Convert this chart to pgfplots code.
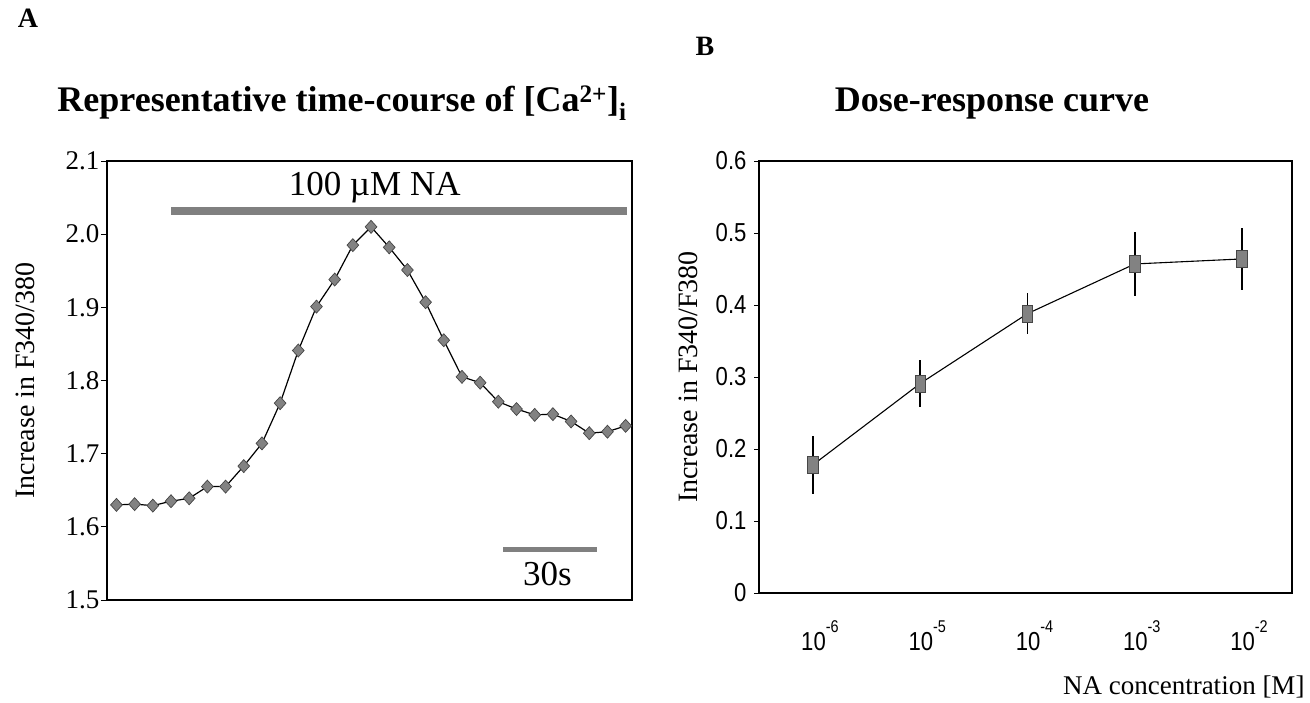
\documentclass[border=0pt]{standalone}
\usepackage{pgfplots}
\usepackage{pgfplotstable}
\pgfplotsset{compat=1.18}
\usepackage{fontspec}
\setmainfont{Liberation Serif}
\newfontfamily\narrowsans[FakeStretch=0.85]{Liberation Sans}
\definecolor{markgray}{RGB}{130,130,130}
\definecolor{markedge}{RGB}{70,70,70}
\definecolor{bargray}{RGB}{128,128,128}

\pgfplotstableread{
x y
0 1.630
1 1.631
2 1.629
3 1.635
4 1.639
5 1.655
6 1.655
7 1.683
8 1.714
9 1.769
10 1.841
11 1.901
12 1.938
13 1.985
14 2.010
15 1.982
16 1.951
17 1.907
18 1.855
19 1.805
20 1.797
21 1.771
22 1.761
23 1.753
24 1.754
25 1.744
26 1.728
27 1.730
28 1.738
}\timecourse

\pgfplotstableread{
x y e
-6 0.178 0.040
-5 0.291 0.032
-4 0.388 0.028
-3 0.457 0.044
-2 0.464 0.043
}\dose

\begin{document}
\begin{tikzpicture}
% ---------- Panel A ----------
\begin{axis}[
  at={(107pt,102pt)}, anchor=south west,
  width=525pt, height=439pt, scale only axis,
  xmin=-0.52, xmax=28.35, ymin=1.5, ymax=2.1,
  xtick=\empty,
  ytick={1.5,1.6,1.7,1.8,1.9,2.0,2.1},
  yticklabels={1.5,1.6,1.7,1.8,1.9,2.0,2.1},
  ytick pos=left,
  tick align=outside, major tick length=6pt,
  tick style={black, line width=1pt},
  yticklabel style={font=\fontsize{27}{27}\selectfont, xshift=2pt},
  axis line style={line width=1.3pt},
  ylabel={Increase in F340/380},
  ylabel style={font=\fontsize{28}{28}\selectfont, at={(axis description cs:-0.156,0.5)}, anchor=center},
  clip=false,
]
\addplot[line width=8pt, color=bargray] coordinates {(3,2.032) (28.1,2.032)};
\node[font=\fontsize{35}{35}\selectfont] at (axis cs:14.2,2.063) {100 µM NA};
\addplot[line width=5pt, color=bargray] coordinates {(21.26,1.569) (26.43,1.569)};
\node[font=\fontsize{35}{35}\selectfont] at (axis cs:23.7,1.536) {30s};
\addplot[black, line width=1.2pt, mark=diamond*, mark size=6.5pt,
  mark options={xscale=1.2, fill=markgray, draw=markedge, line width=0.7pt}] table[x=x,y=y] {\timecourse};
\end{axis}

% ---------- Panel B ----------
\begin{axis}[
  at={(759pt,109pt)}, anchor=south west,
  width=533pt, height=432pt, scale only axis,
  xmin=-6.503, xmax=-1.534, ymin=0, ymax=0.6,
  xtick={-6,-5,-4,-3,-2},
  xticklabels={
    {10\raisebox{18pt}{\fontsize{17}{17}\selectfont -6}},
    {10\raisebox{18pt}{\fontsize{17}{17}\selectfont -5}},
    {10\raisebox{18pt}{\fontsize{17}{17}\selectfont -4}},
    {10\raisebox{18pt}{\fontsize{17}{17}\selectfont -3}},
    {10\raisebox{18pt}{\fontsize{17}{17}\selectfont -2}}},
  every major x tick/.append style={draw=none},
  xticklabel style={font=\narrowsans\fontsize{26}{26}\selectfont, anchor=base, yshift=-52pt, xshift=7pt},
  ytick={0,0.1,0.2,0.3,0.4,0.5,0.6},
  yticklabels={0,0.1,0.2,0.3,0.4,0.5,0.6},
  ytick pos=left,
  tick align=outside, major tick length=5pt,
  tick style={black, line width=1pt},
  yticklabel style={font=\narrowsans\fontsize{26}{26}\selectfont, xshift=-4pt},
  axis line style={line width=1.3pt},
  ylabel={Increase in F340/F380},
  ylabel style={font=\fontsize{28}{28}\selectfont, at={(axis description cs:-0.133,0.5)}, anchor=center},
  clip=false,
]
\addplot[black, line width=1.1pt, mark=square*, mark size=8.5pt,
  mark options={xscale=0.62, fill=markgray, draw=markedge, line width=0.7pt},
  error bars/.cd, y dir=both, y explicit, error mark=none,
  error bar style={line width=1.6pt, black}]
  table[x=x, y=y, y error=e] {\dose};
\end{axis}

% ---------- Texts ----------
\node[font=\bfseries\fontsize{28}{28}\selectfont, anchor=base] at (28pt,674pt) {A};
\node[font=\bfseries\fontsize{28}{28}\selectfont, anchor=base] at (705pt,646pt) {B};
\node[font=\bfseries\fontsize{36}{36}\selectfont, anchor=base] at (342pt,590pt)
  {Representative time-course of [Ca\textsuperscript{2+}]\textsubscript{i}};
\node[font=\bfseries\fontsize{36}{36}\selectfont, anchor=base] at (992pt,590pt) {Dose-response curve};
\node[font=\fontsize{27}{27}\selectfont, anchor=base east] at (1308pt,8pt) {NA concentration [M]};

\pgfresetboundingbox
\path[use as bounding box] (0pt,0pt) rectangle (1310pt,702pt);
\end{tikzpicture}
\end{document}
